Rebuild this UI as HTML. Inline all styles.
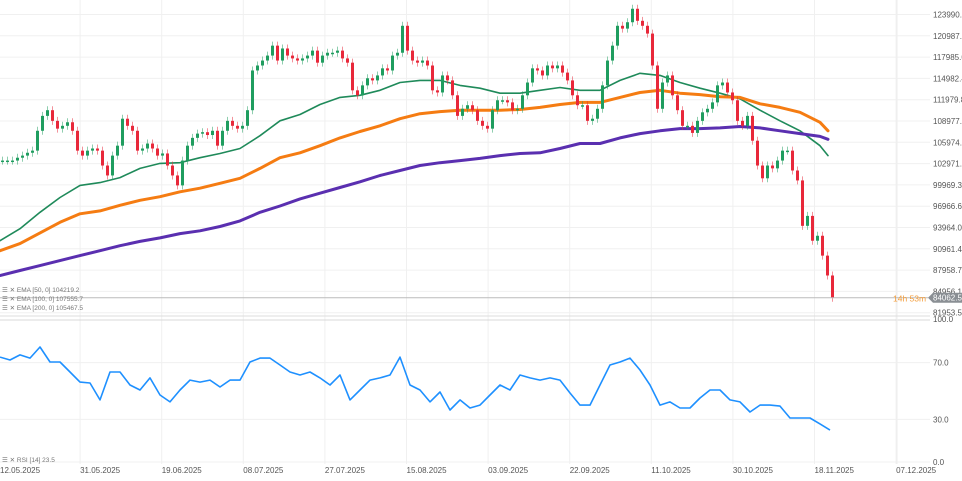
<!DOCTYPE html>
<html><head><meta charset="utf-8"><style>
html,body{margin:0;padding:0;background:#fff;}
svg{display:block;font-family:"Liberation Sans",sans-serif;}
</style></head><body>
<svg id="c" width="962" height="481" viewBox="0 0 962 481" xmlns="http://www.w3.org/2000/svg">
<g id="grid"></g>
<g id="ema"></g>
<g id="candles"></g>
<g id="rsi"></g>
<g id="axes"></g>
<g font-size="6.5" fill="#777">
<text x="2" y="292">☰ ✕ EMA [50, 0] 104219.2</text>
<text x="2" y="301">☰ ✕ EMA [100, 0] 107555.7</text>
<text x="2" y="310">☰ ✕ EMA [200, 0] 105467.5</text>
<text x="2" y="462">☰ ✕ RSI [14] 23.5</text>
</g>
</svg>
<script>
const closes=[103.4,103.4,103.4,103.8,104.1,104.5,104.8,107.6,109.7,110.5,109.0,107.9,108.3,108.8,107.6,104.8,104.1,104.8,105.1,104.8,102.7,101.3,104.1,105.5,109.3,108.3,107.6,104.8,105.1,105.8,105.1,104.1,104.4,102.7,101.3,99.9,103.4,105.5,106.6,107.2,107.4,107.0,107.6,105.5,107.6,109.0,108.3,107.9,108.3,110.5,116.1,116.8,117.5,118.2,119.6,117.5,119.2,118.2,117.8,117.5,117.8,118.2,118.9,117.2,118.2,118.6,118.6,118.9,117.8,117.2,113.3,112.6,114.0,115.0,114.7,115.4,116.4,116.1,118.2,118.6,122.4,118.9,117.5,117.2,117.5,116.8,113.3,113.0,115.4,114.7,112.6,109.7,110.7,111.2,110.5,109.0,108.3,107.9,110.5,111.9,111.9,111.6,110.5,110.7,112.6,114.4,116.4,116.1,115.4,116.8,116.4,116.8,115.8,114.7,112.6,111.2,111.2,109.0,109.3,110.7,114.0,117.5,119.6,122.4,122.0,122.9,124.8,123.1,122.4,121.3,116.8,110.7,114.4,115.4,112.6,110.5,108.3,108.3,107.3,109.0,110.2,110.7,111.6,114.0,114.4,113.0,111.9,109.0,108.3,109.7,106.2,102.7,100.9,102.7,102.3,103.4,104.8,104.8,102.0,100.6,94.2,95.6,92.1,92.8,90.0,87.2,84.0625];
const ema50=[92.1,93.8,96.1,98.2,99.9,100.3,101.0,102.3,103.0,103.1,103.8,104.4,105.1,106.9,109.0,109.9,111.3,112.3,112.6,113.3,114.4,114.7,114.7,114.0,113.6,112.9,112.9,113.3,113.7,113.3,113.3,114.7,115.7,115.4,114.4,113.6,112.9,112.1,110.5,109.0,107.6,105.5,104.1];
const ema100=[90.7,91.7,93.2,94.7,95.9,96.3,97.1,97.8,98.3,99.0,99.5,100.2,100.9,102.3,103.8,104.5,105.5,106.6,107.5,108.3,109.3,110.0,110.3,110.5,110.5,110.5,110.6,110.9,111.3,111.6,111.6,112.3,113.0,113.3,112.9,112.7,112.4,112.3,111.4,110.9,110.2,108.8,107.6];
const ema200=[87.2,87.9,88.6,89.3,90.0,90.7,91.4,92.0,92.5,93.1,93.5,94.1,94.9,96.1,97.0,98.0,98.8,99.6,100.4,101.3,102.0,102.7,103.1,103.4,103.7,104.1,104.4,104.5,105.1,105.8,105.8,106.6,107.2,107.6,107.9,107.9,108.0,108.2,108.0,107.6,107.2,106.8,106.4];
const rsiVals=[73.9,71.8,75.4,73.2,81.0,70.4,70.4,63.4,56.3,55.6,43.7,63.4,63.4,54.2,50.7,59.2,47.2,42.3,50.7,57.7,56.3,57.7,52.8,57.7,57.7,70.4,73.2,73.2,68.3,63.4,61.3,63.4,59.2,54.2,61.3,43.7,50.7,57.7,59.2,61.3,73.9,54.2,50.7,42.3,49.3,36.6,43.7,38.0,40.1,47.2,54.2,50.7,61.3,59.2,57.7,59.2,57.7,48.6,40.1,40.1,54.2,68.3,70.4,73.2,64.8,54.2,40.1,42.3,38.0,38.0,45.1,50.7,50.7,43.7,42.3,35.2,40.1,40.1,39.4,31.0,31.0,31.0,26.8,22.5];
const priceTicks=["123990.3","120987.7","117985.0","114982.4","111979.8","108977.1","105974.5","102971.9","99969.3","96966.6","93964.0","90961.4","87958.7","84956.1","81953.5"];
const tickVals=[123.9903,120.9877,117.985,114.9824,111.9798,108.9771,105.9745,102.9719,99.9693,96.9666,93.964,90.9614,87.9587,84.9561,81.9535];
const dateLabels=["12.05.2025","31.05.2025","19.06.2025","08.07.2025","27.07.2025","15.08.2025","03.09.2025","22.09.2025","11.10.2025","30.10.2025","18.11.2025","07.12.2025"];
const rsiTicks=[100,70,30,0];

const NS="http://www.w3.org/2000/svg";
function yP(p){return 14.5+(123.9903-p)/3.0026*21.3;}
function yR(v){return 462-v*1.42;}
function xI(i){return i*5+1;}
function xE(i,n){return i===n-1?828:i*20;}
function xD(i){return -1.5+i*81.6;}
function mk(parent,tag,attrs){const e=document.createElementNS(NS,tag);for(const k in attrs)e.setAttribute(k,attrs[k]);parent.appendChild(e);return e;}
const grid=document.getElementById('grid'),axes=document.getElementById('axes');
tickVals.forEach((v,i)=>{
  const l=mk(grid,'line',{x1:0,x2:930,y1:yP(v),y2:yP(v),stroke:'#f0f0f0','stroke-width':1});
  
  
  const t=mk(axes,'text',{x:933,y:yP(v)+3,'font-size':8,fill:'#555'});
  t.textContent=priceTicks[i];
  
  
});
dateLabels.forEach((d,i)=>{
  const x=xD(i);
  const l=mk(grid,'line',{x1:x,x2:x,y1:0,y2:464,stroke:'#f0f0f0','stroke-width':1});
  
  
  const t=mk(axes,'text',{x:Math.max(x,0),y:473,'font-size':8,fill:'#555'});
  t.textContent=d;
  
  
});
rsiTicks.forEach(v=>{
  const l=mk(grid,'line',{x1:0,x2:930,y1:yR(v),y2:yR(v),stroke:v==100?'#d8d8d8':'#f0f0f0','stroke-width':1});
  
  
  const t=mk(axes,'text',{x:933,y:yR(v)+3+(v==100?-1:0),'font-size':8,fill:'#555'});
  t.textContent=v.toFixed(1);
  
  
});
const sep=mk(grid,'line',{x1:897,x2:897,y1:0,y2:464,stroke:'#eee'});


const last=closes[closes.length-1];
const cl=mk(axes,'line',{x1:0,x2:928,y1:yP(last),y2:yP(last),stroke:'#bbb','stroke-width':1});


const tag=mk(axes,'path',{d:`M928 ${yP(last)} L933 ${yP(last)-5} L962 ${yP(last)-5} L962 ${yP(last)+5} L933 ${yP(last)+5} Z`,fill:'#8a8f94'});


const tt=mk(axes,'text',{x:933,y:yP(last)+3,'font-size':8,fill:'#fff'});
tt.textContent=(last*1000).toFixed(1);


const cd=mk(axes,'text',{x:893,y:yP(last)+4,'font-size':8.5,fill:'#f39c3a'});
cd.textContent='14h 53m';


const cg=document.getElementById('candles');
closes.forEach((c,i)=>{
  const o=i?closes[i-1]:c;const up=c>=o;const col=up?'#1f9d5f':'#e8283a';
  const x=xI(i),y1=yP(Math.max(o,c)),y2=yP(Math.min(o,c));
  const w=mk(cg,'line',{x1:x+1.5,x2:x+1.5,y1:y1-4,y2:y2+4,stroke:col,'stroke-opacity':0.5,'stroke-width':1});
  
  
  const r=mk(cg,'rect',{x:x,y:y1,width:3,height:Math.max(1.5,y2-y1),fill:col});
  
  
});
const eg=document.getElementById('ema');
[[ema50,'#1f8a5a',1.6,'ema-50-line'],[ema100,'#f57c12',3,'ema-100-line'],[ema200,'#5a2fb0',3,'ema-200-line']].forEach(([v,col,w,n])=>{
  const d=v.map((p,i)=>(i?'L':'M')+xE(i,v.length)+' '+yP(p).toFixed(1)).join(' ');
  const pth=mk(eg,'path',{d:d,fill:'none',stroke:col,'stroke-width':w,'stroke-linejoin':'round','stroke-linecap':'round'});
  
  
});
const rg=document.getElementById('rsi');
const rd=rsiVals.map((v,i)=>(i?'L':'M')+(i*10)+' '+yR(v).toFixed(1)).join(' ');
const rp=mk(rg,'path',{d:rd,fill:'none',stroke:'#1e90ff','stroke-width':1.6,'stroke-linejoin':'round'});


const pl=mk(axes,'line',{x1:0,x2:930,y1:316,y2:316,stroke:'#ddd'});


</script>
</body></html>
